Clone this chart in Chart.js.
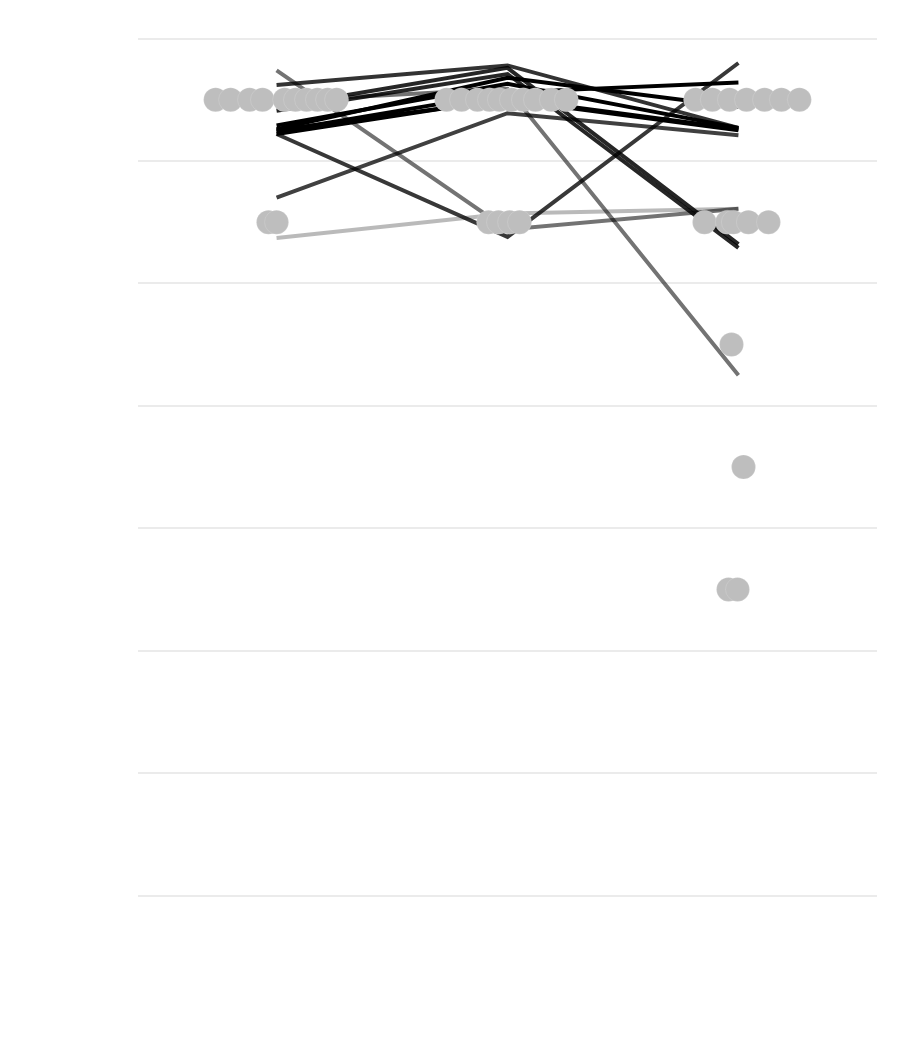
<!DOCTYPE html>
<html>
<head>
<meta charset="utf-8">
<script src="https://cdn.jsdelivr.net/npm/chart.js@4/dist/chart.umd.min.js"></script>
<style>
  html, body { margin: 0; padding: 0; background: #ffffff; }
  #wrap { width: 900px; height: 1050px; }
</style>
</head>
<body>
<div id="wrap"><canvas id="c" width="900" height="1050"></canvas></div>
<script>
// ---- data ----
const categories = [1, 2, 3];                 // three time points
const gridTicks = [-1.5, -0.5, 0.5, 1.5, 2.5, 3.5, 4.5, 5.5];

// individual profiles (value at each category)
const lineValues = [
  [5.24, 3.94, 4.11],
  [3.87, 4.07, 4.11],
  [4.72, 3.88, 5.30],
  [4.20, 4.89, 4.71],
  [4.99, 5.09, 2.75],
  [5.12, 5.28, 4.77],
  [4.94, 5.26, 3.82],
  [4.91, 5.21, 3.79],
  [4.76, 5.18, 4.94],
  [4.79, 5.13, 4.77],
  [4.74, 5.06, 5.14],
  [4.72, 5.01, 4.76],
  [4.75, 5.00, 4.75]
];
const lineAlpha = [0.55, 0.27, 0.78, 0.75, 0.55, 0.8, 0.85, 0.85, 1, 1, 1, 1, 1];

// raw ratings (dots) with horizontal jitter
const dotCategory = [1,1,1,1,1,1,1,1,1,1, 1,1,
                     2,2,2,2,2,2,2,2,2,2, 2,2,2,2,
                     3,3,3,3,3,3,3, 3,3,3,3,3, 3, 3, 3,3];
const dotRating   = [5,5,5,5,5,5,5,5,5,5, 4,4,
                     5,5,5,5,5,5,5,5,5,5, 4,4,4,4,
                     5,5,5,5,5,5,5, 4,4,4,4,4, 3, 2, 1,1];
const dotJitter   = [-0.264,-0.199,-0.117,-0.061,0.035,0.082,0.130,0.177,0.221,0.260, -0.035,0.0,
                     -0.264,-0.199,-0.130,-0.078,-0.035,0.017,0.069,0.121,0.190,0.255, -0.082,-0.039,0.009,0.052,
                     -0.186,-0.113,-0.039,0.035,0.113,0.186,0.264, -0.147,-0.048,-0.022,0.043,0.130, -0.030, 0.022, -0.043,-0.004];

// ---- build datasets ----
const datasets = [];
datasets.push({
  type: 'scatter',
  label: 'ratings',
  data: dotCategory.map((c, i) => ({ x: c + dotJitter[i], y: dotRating[i] })),
  pointRadius: 12,
  pointBackgroundColor: '#bebebe',
  pointBorderColor: 'rgba(255,255,255,0.3)',
  pointBorderWidth: 0.5,
  showLine: false,
  order: 0
});
lineValues.forEach((vals, k) => {
  datasets.push({
    type: 'line',
    label: 'p' + k,
    data: vals.map((v, i) => ({ x: categories[i], y: v })),
    borderColor: 'rgba(0,0,0,' + lineAlpha[k] + ')',
    borderWidth: 4,
    pointRadius: 0,
    tension: 0,
    fill: false,
    borderCapStyle: 'butt',
    order: 1
  });
});

new Chart(document.getElementById('c'), {
  data: { datasets },
  options: {
    responsive: false,
    animation: false,
    layout: { padding: { left: 138, right: 23, top: 38.5, bottom: 154.5 } },
    plugins: { legend: { display: false }, tooltip: { enabled: false } },
    scales: {
      x: {
        type: 'linear',
        min: 0.4, max: 3.6,
        display: false
      },
      y: {
        type: 'linear',
        min: -1.5, max: 5.5,
        afterBuildTicks: (scale) => { scale.ticks = gridTicks.map(v => ({ value: v })); },
        ticks: { display: false },
        border: { display: false },
        grid: { color: '#ebebeb', lineWidth: 2, drawTicks: false }
      }
    }
  }
});
</script>
</body>
</html>
